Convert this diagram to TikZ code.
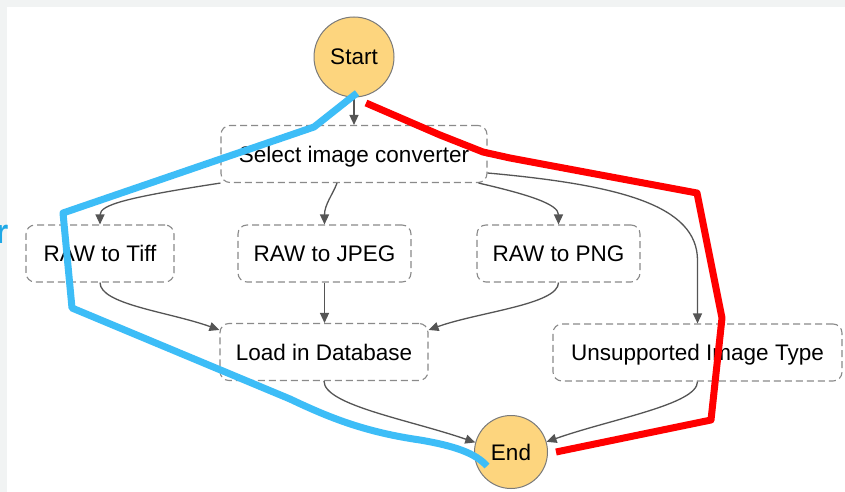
\documentclass[tikz,border=0pt]{standalone}
\usepackage{fontspec}
\setmainfont{Liberation Sans}
\usetikzlibrary{arrows.meta,calc}
\definecolor{bggray}{HTML}{F1F3F3}
\definecolor{nodefill}{HTML}{FDD57E}
\definecolor{circborder}{HTML}{7A7A7A}
\definecolor{boxborder}{HTML}{8A8A8A}
\definecolor{edgegray}{HTML}{555555}
\definecolor{pathblue}{HTML}{3DBDF7}
\definecolor{pathred}{HTML}{FF0000}
\definecolor{textblue}{HTML}{1FA8E6}
\begin{document}
\begin{tikzpicture}[x=1pt,y=-1pt,
 every node/.style={font=\fontsize{22.5}{27}\selectfont, inner sep=0pt, text height=16pt, text depth=0pt},
 statecirc/.style={circle, fill=nodefill, draw=circborder, line width=1pt, minimum size=80pt},
 taskbox/.style={rectangle, rounded corners=9pt, draw=boxborder, dash pattern=on 7pt off 4pt, line width=1.1pt, minimum height=57pt},
 flow/.style={draw=edgegray, line width=1.3pt, -{Triangle[length=10pt,width=9pt]}},
 hl/.style={line width=7pt, line join=round, line cap=butt}]

\fill[bggray] (0,0) rectangle (845,492);
\fill[white] (7,7) rectangle (845,492);
\useasboundingbox (0,0) rectangle (845,492);

\node[statecirc] (start) at (354,57) {Start};
\node[statecirc, minimum size=73pt] (end) at (511,452) {End};
\node[taskbox, minimum width=266pt] (sel) at (354,154) {Select image converter};
\node[taskbox, minimum width=148pt] (tiff) at (100,253.5) {RAW to Tiff};
\node[taskbox, minimum width=173pt] (jpeg) at (324.5,253.5) {RAW to JPEG};
\node[taskbox, minimum width=163pt] (png) at (558.5,253.5) {RAW to PNG};
\node[taskbox, minimum width=208pt] (load) at (324,352) {Load in Database};
\node[taskbox, minimum width=289pt] (unsup) at (697.5,352.5) {Unsupported Image Type};

\node[text=textblue, font=\bfseries\fontsize{34}{40}\selectfont, anchor=base east, text height=, text depth=] (cut) at (8.5,243) {r};

\draw[flow] (start) -- (sel);
\draw[flow] (sel.south west) .. controls +(-91,14) and +(0,-20) .. (tiff.north);
\draw[flow] ($(sel.south)+(-17,0)$) .. controls +(-4,11) and +(0,-20) .. (jpeg.north);
\draw[flow] ($(sel.south east)+(-9,0)$) .. controls +(52,12) and +(0,-20) .. (png.north);
\draw[flow] ($(sel.east)+(0,19)$) .. controls +(133,12) and +(0,-55) .. ($(unsup.north)+(0,-63)$) -- (unsup.north);
\draw[flow] (tiff.south) .. controls +(0,22) and +(-50,-18) .. ($(load.north west)+(0,7)$);
\draw[flow] (jpeg.south) -- (jpeg.south |- load.north);
\draw[flow] (png.south) .. controls +(0,22) and +(50,-18) .. ($(load.north east)+(0,7)$);
\draw[flow] (load.south) .. controls +(0,24) and +(-67,-23) .. (end.165);
\draw[flow] (unsup.south) .. controls +(0,23) and +(65,-23) .. (end.16);

\draw[hl, pathblue] (357,93) -- (314,127) -- (63,213) -- (72,308) -- (290,399) .. controls (330,418) and (365,432) .. (420,440) .. controls (455,446) and (475,453) .. (487,466);
\draw[hl, pathred] (366,103) -- (440,135) -- (483,152) -- (510,158) -- (697,193) -- (722,318) -- (711,420) -- (556,452);
\end{tikzpicture}
\end{document}
